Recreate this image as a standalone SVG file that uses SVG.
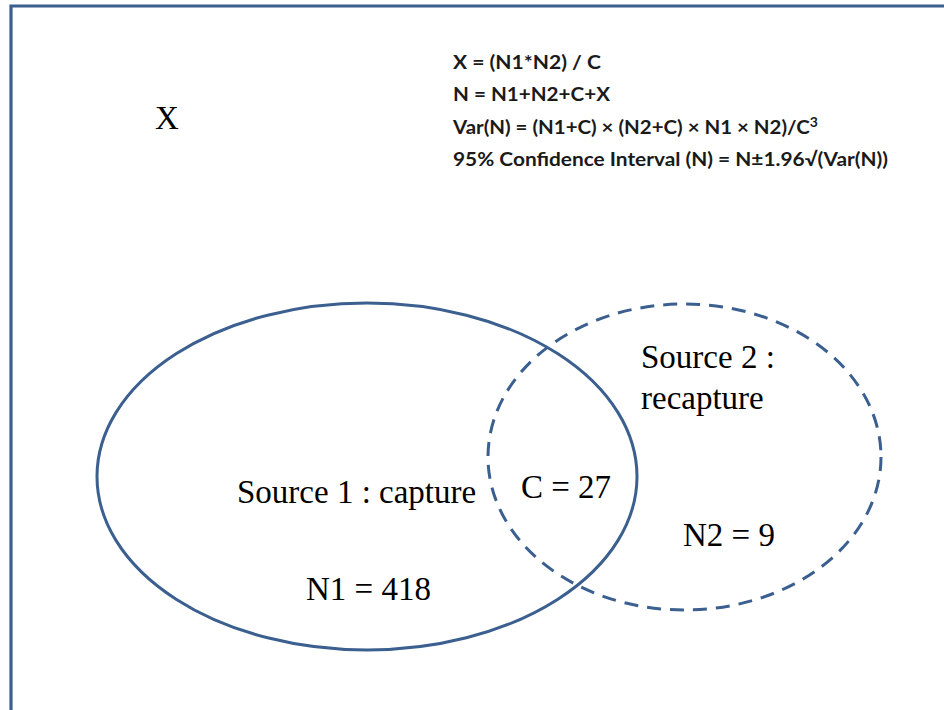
<svg xmlns="http://www.w3.org/2000/svg" width="944" height="710" viewBox="0 0 944 710">
<style>
.frame{fill:none;stroke:#3B5F8F;stroke-width:3.2}
.set{fill:none;stroke:#3B5F8F;stroke-width:3}
.dash{stroke-dasharray:14 9}
.lbl{font-family:"Liberation Serif","Times New Roman",serif;font-size:33px;fill:#000}
.eq{font-family:Lato,"Open Sans","Liberation Sans",sans-serif;font-weight:bold;font-size:19px;fill:#1a1a1a}
</style>
<rect width="944" height="710" fill="#fff"/>
<path class="frame" d="M11,712 V6 H946"/>
<g id="unknown-x">
<text class="lbl" x="155" y="129">X</text>
</g>
<g id="formulas">
<text class="eq" x="453" y="69" textLength="148" lengthAdjust="spacingAndGlyphs">X = (N1*N2) / C</text>
<text class="eq" x="453" y="101" textLength="157" lengthAdjust="spacingAndGlyphs">N = N1+N2+C+X</text>
<text class="eq" x="453" y="134" textLength="365" lengthAdjust="spacingAndGlyphs">Var(N) = (N1+C) × (N2+C) × N1 × N2)/C<tspan font-size="13" dy="-7">3</tspan></text>
<text class="eq" x="453" y="166" textLength="435" lengthAdjust="spacingAndGlyphs">95% Confidence Interval (N) = N±1.96√(Var(N))</text>
</g>
<g id="source1">
<ellipse class="set" cx="367" cy="476.5" rx="270" ry="173.5"/>
<text class="lbl" x="237" y="503">Source 1 : capture</text>
<text class="lbl" x="306" y="600">N1 = 418</text>
</g>
<g id="source2">
<ellipse class="set dash" cx="684.5" cy="457" rx="196.5" ry="153"/>
<text class="lbl" x="641" y="368">Source 2 :</text>
<text class="lbl" x="641" y="409">recapture</text>
<text class="lbl" x="683" y="546">N2 = 9</text>
</g>
<g id="overlap">
<text class="lbl" x="521" y="498">C = 27</text>
</g>
<g id="connectors"/>
</svg>
